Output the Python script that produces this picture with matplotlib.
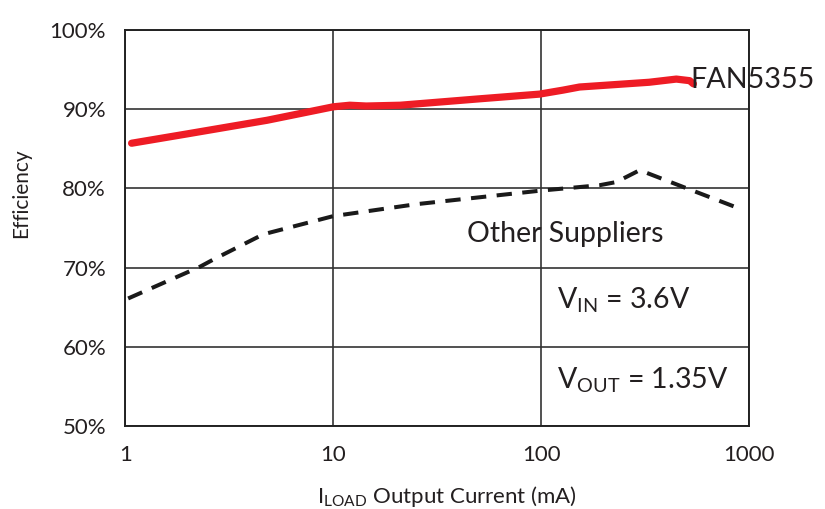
import numpy as np
import matplotlib.pyplot as plt
from matplotlib.ticker import FixedLocator, NullLocator

# FAN5355 efficiency curve (load current mA, efficiency %)
fan_current = [1.07, 2.0, 4.8, 10.0, 12.0, 14.4, 21.0, 50.0, 98.0, 127.0, 153.0, 331.0, 447.0, 518.0, 540.0]
fan_eff = [85.7, 86.9, 88.6, 90.3, 90.5, 90.4, 90.5, 91.3, 91.9, 92.4, 92.8, 93.4, 93.8, 93.6, 93.2]

# competitor curve
other_current = [1.03, 2.28, 2.64, 4.6, 10.0, 25.0, 98.0, 191.0, 230.0, 298.0, 480.0, 850.0]
other_eff = [66.1, 70.1, 71.0, 74.2, 76.5, 78.0, 79.7, 80.4, 80.8, 82.3, 80.2, 77.7]

x_ticks = [1, 10, 100, 1000]
x_labels = ['1', '10', '100', '1000']
y_ticks = [50, 60, 70, 80, 90, 100]
y_labels = ['50%', '60%', '70%', '80%', '90%', '100%']

FONT = 'Lato'
plt.rcParams['font.family'] = [FONT, 'DejaVu Sans']
plt.rcParams['mathtext.fontset'] = 'custom'
plt.rcParams['mathtext.rm'] = FONT

fig = plt.figure(figsize=(8.25, 5.09), dpi=100)
ax = fig.add_axes([0.1521, 0.1631, 0.7558, 0.778])

ax.plot(fan_current, fan_eff, color='#ee1c25', lw=5.2, solid_capstyle='round', zorder=3)
ax.plot(other_current, other_eff, color='#1a1a1a', lw=2.9, dashes=(3.8, 2.6), zorder=3)

ax.set_xscale('log')
ax.set_xlim(1, 1000)
ax.set_ylim(50, 100)
ax.xaxis.set_major_locator(FixedLocator(x_ticks))
ax.xaxis.set_minor_locator(NullLocator())
ax.set_xticks(x_ticks)
ax.set_xticklabels(x_labels)
ax.set_yticks(y_ticks)
ax.set_yticklabels(y_labels)
ax.tick_params(length=0, labelsize=16, colors='#231f20')
ax.tick_params(axis='y', pad=14)
ax.tick_params(axis='x', pad=14)
ax.grid(True, color='#333333', lw=1.2)
for s in ax.spines.values():
    s.set_color('#222222')
    s.set_linewidth(1.4)

ax.set_ylabel('Efficiency', fontsize=15, color='#231f20')
ax.yaxis.set_label_coords(-0.152, 0.588)
ax.set_xlabel(r'$\mathregular{I_{LOAD}}$ Output Current (mA)', fontsize=16, color='#231f20')
ax.xaxis.set_label_coords(0.516, -0.146)

ax.text(525, 93.7, 'FAN5355', fontsize=20.7, color='#231f20', va='center', ha='left', clip_on=False)
ax.text(131, 74.3, 'Other Suppliers', fontsize=20.5, color='#231f20', va='center', ha='center')
ax.text(119, 65.9, r'$\mathregular{V_{IN}}$ = 3.6V', fontsize=20.5, color='#231f20', va='center', ha='left')
ax.text(119, 55.8, r'$\mathregular{V_{OUT}}$ = 1.35V', fontsize=20.5, color='#231f20', va='center', ha='left')

fig.savefig('out.png', dpi=100, facecolor='white')
